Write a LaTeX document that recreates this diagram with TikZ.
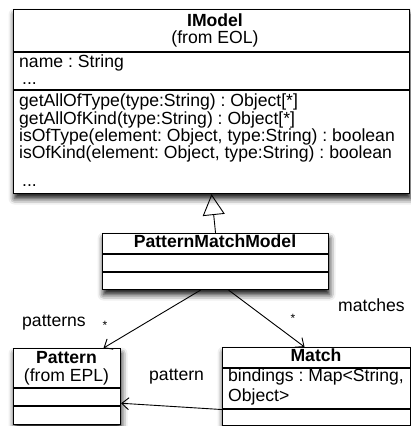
\documentclass[tikz,border=0pt]{standalone}
\usepackage{fontspec}
\setmainfont{Liberation Sans}
\usetikzlibrary{shadows.blur,arrows.meta,calc}
\frenchspacing
\begin{document}
\begin{tikzpicture}[x=1pt,y=-1pt,
  cls/.style={draw, line width=1.1pt, fill=white, inner sep=0pt, anchor=north west,
    blur shadow={shadow xshift=1pt, shadow yshift=-5pt, shadow blur radius=6pt, shadow opacity=95}},
  txt/.style={font=\fontsize{17.6}{19}\selectfont, inner sep=0pt, anchor=base west},
  ttl/.style={font=\fontsize{17.6}{19}\selectfont\bfseries, inner sep=0pt, anchor=base},
  sub/.style={font=\fontsize{17.6}{19}\selectfont, inner sep=0pt, anchor=base},
  star/.style={font=\fontsize{12}{14}\selectfont, inner sep=0pt},
  div/.style={line width=1.1pt},
  assoc/.style={line width=0.9pt, -{Straight Barb[length=7pt,width=12pt,line width=0.9pt]}},
  inh/.style={line width=0.9pt, -{Triangle[open,length=21pt,width=22pt,line width=0.9pt]}}
]
\useasboundingbox (0,0) rectangle (410,426);
% IModel
\node[cls, minimum width=396pt, minimum height=184pt] (imodel) at (13,9) {};
\draw[div] (13,52) -- (409,52);
\draw[div] (13,90) -- (409,90);
\node[ttl] (imt) at (215,26) {IModel};
\node[sub] (ims) at (215,43) {(from EOL)};
\node[txt] (a1) at (19,67) {name : String};
\node[txt] (a2) at (22,84) {...};
\node[txt] (o1) at (19,106.5) {getAllOfType(type:String) : Object[*]};
\node[txt] (o2) at (19,124) {getAllOfKind(type:String) : Object[*]};
\node[txt] (o3) at (19,141.3) {isOfType(element: Object, type:String) : boolean};
\node[txt] (o4) at (19,158.6) {isOfKind(element: Object, type:String) : boolean};
\node[txt] (o5) at (22,186) {...};
% PatternMatchModel
\node[cls, minimum width=226pt, minimum height=56pt] (pmm) at (102,233) {};
\draw[div] (102,254) -- (328,254);
\draw[div] (102,272) -- (328,272);
\node[ttl] (pmt) at (215,247) {PatternMatchModel};
% Pattern
\node[cls, minimum width=107pt, minimum height=76pt] (pattern) at (13,348) {};
\draw[div] (13,388) -- (120,388);
\draw[div] (13,406) -- (120,406);
\node[ttl] (pt) at (66.5,363.3) {Pattern};
\node[sub] (ps) at (66.5,381.7) {(from EPL)};
% Match
\node[cls, minimum width=188pt, minimum height=78pt] (match) at (222,347) {};
\draw[div] (222,368) -- (410,368);
\draw[div] (222,409) -- (410,409);
\node[ttl] (mt) at (316,361.7) {Match};
\node[txt] (m1) at (228,381.7) {bindings : Map<String,};
\node[txt] (m2) at (228,401.7) {Object>};
% connectors
\draw[inh] (pmm.north) -- (imodel.south);
\draw[assoc] ([xshift=-15pt]pmm.south) -- ([xshift=36.5pt]pattern.north);
\draw[assoc] ([xshift=13pt]pmm.south) -- ([xshift=-12pt]match.north);
\draw[assoc] ([yshift=-23pt]match.west) -- ([yshift=-16.7pt]pattern.east);
% labels
\node[txt] (lp) at (22,326.7) {patterns};
\node[star] (s1) at (105,325) {*};
\node[star] (s2) at (293,318) {*};
\node[txt] (lm) at (338,311.7) {matches};
\node[txt] (lpt) at (149,380) {pattern};
\end{tikzpicture}
\end{document}
